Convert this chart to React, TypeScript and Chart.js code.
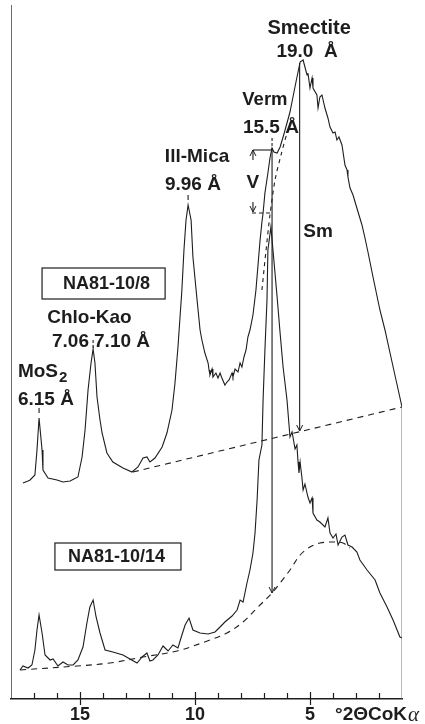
import React, { useEffect, useRef } from 'react';
import { Chart, registerables } from 'chart.js';

Chart.register(...registerables);

// ---- NA81-10/8 (upper pattern): °2θ CoKα vs. intensity (arb.) ----
const upperTheta = [17.48, 17.26, 17.17, 16.96, 16.87, 16.78, 16.65, 16.61, 16.39, 16.0, 15.74, 15.43, 15.09, 14.91, 14.78, 14.65, 14.52, 14.43, 14.35, 14.26, 14.13, 14.04, 13.83, 13.57, 13.13, 12.74, 12.48, 12.26, 12.09, 11.96, 11.74, 11.43, 11.22, 11.0, 10.87, 10.74, 10.57, 10.48, 10.39, 10.3, 10.17, 10.09, 9.91,
  9.78, 9.7, 9.57, 9.43, 9.39, 9.35, 9.26, 9.22, 9.09, 9.0, 8.91, 8.83, 8.7, 8.61, 8.52, 8.39, 8.35, 8.26, 8.13, 8.04, 7.96, 7.87, 7.78, 7.7, 7.61,
  7.48, 7.35, 7.26, 7.17, 7.09, 7.04, 6.96, 6.83, 6.74, 6.65, 6.57, 6.43, 6.3, 6.17, 6.0, 5.87, 5.74, 5.61, 5.52,
  5.43, 5.3, 5.22, 5.13, 5.09, 5.0, 4.91, 4.87, 4.7, 4.65, 4.57, 4.48, 4.35, 4.22, 4.13, 4.0, 3.91, 3.83, 3.74, 3.61, 3.48, 3.39, 3.35, 3.26, 3.13, 3.04, 2.91, 2.74, 2.61, 2.48,
  2.26, 1.96, 1.74, 1.52, 1.26, 1.0];
const upperCounts = [216, 218, 219, 224, 249, 281, 249, 229, 221, 219, 217, 218, 222, 242, 269, 309, 336, 350, 336, 302, 279, 266, 246, 237, 231, 227, 232, 241, 242, 237, 241, 252, 266, 289, 316, 352, 409, 449, 479, 494, 479, 442, 399,
  369, 359, 346, 336, 329, 324, 330, 322, 326, 321, 326, 321, 314, 317, 319, 326, 322, 330, 327, 336, 332, 342, 349, 362, 369,
  384, 409, 434, 459, 477, 486, 506, 526, 541, 551, 547, 546, 552, 562, 576, 587, 602, 617, 627,
  637, 639, 632, 624, 626, 611, 621, 611, 604, 591, 602, 604, 591, 581, 572, 566, 567, 559, 562, 554, 534, 529, 522, 511, 504, 497, 487, 474, 461, 447,
  422, 389, 369, 346, 319, 292];

// ---- NA81-10/14 (lower pattern) ----
const lowerTheta = [17.61, 17.48, 17.26, 17.09, 16.96, 16.87, 16.78, 16.65, 16.52, 16.3, 16.17, 15.96, 15.74, 15.52, 15.3, 15.09, 14.87, 14.7, 14.57, 14.43, 14.3, 14.13, 13.91, 13.57, 13.13, 12.83, 12.52, 12.3, 12.09, 11.96, 11.83, 11.61, 11.39, 11.17, 10.96, 10.74, 10.57, 10.43, 10.26, 10.09, 9.78, 9.43, 9.13, 8.91, 8.7, 8.39, 8.17, 8.04, 7.91, 7.74, 7.61, 7.48, 7.39, 7.3, 7.22, 7.09, 7.04, 6.96, 6.87, 6.83, 6.7, 6.61, 6.43, 6.3, 6.17, 6.0,
  5.87, 5.78, 5.65, 5.57, 5.52, 5.48, 5.43, 5.35, 5.3, 5.22, 5.09, 5.0, 4.91, 4.87, 4.7, 4.57, 4.35, 4.22, 4.13, 4.0, 3.87, 3.78, 3.61, 3.48, 3.35, 3.17, 2.96,
  2.83, 2.52, 2.17, 1.96, 1.65, 1.39, 1.09, 1.0];
const lowerCounts = [29, 33, 31, 34, 49, 69, 84, 66, 44, 39, 40, 33, 37, 34, 34, 39, 52, 76, 92, 99, 82, 66, 49, 47, 44, 40, 36, 42, 46, 38, 39, 44, 53, 48, 54, 51, 64, 74, 81, 69, 66, 65, 67, 72, 77, 83, 89, 99, 97, 116, 129, 146, 166, 199, 239, 254, 299, 349, 399, 449, 472, 449, 402, 366, 332, 299,
  262, 267, 250, 254, 237, 226, 237, 221, 209, 215, 202, 196, 201, 186, 179, 177, 172, 181, 166, 161, 165, 154, 162, 164, 154, 152, 147,
  139, 129, 119, 106, 92, 79, 62, 61];

// ---- background / decomposition curves ----
const upperBaseTheta = [12.7, 1.0];
const upperBaseCounts = [227, 292];
const lowerBaseTheta = [17.61, 15.13, 13.7, 12.26, 10.78, 9.35, 8.61, 7.91, 7.26, 6.65, 6.3, 5.87, 5.43, 5.0, 4.57, 4.0, 3.57, 3.26];
const lowerBaseCounts = [29, 33, 36, 42, 48, 59, 66, 77, 92, 106, 116, 129, 144, 152, 156, 157, 156, 151];
const smectiteFitTheta = [7.09, 6.91, 6.74, 6.52, 6.26, 5.96, 5.78];
const smectiteFitCounts = [409, 449, 484, 519, 544, 569, 581];

// ---- measurement markers ----
const smArrowTheta = [5.45, 5.45];
const smArrowCounts = [636, 268];
const vermArrowTheta = [6.65, 6.65];
const vermArrowCounts = [551, 106];
const vTopTheta = [7.48, 6.65];
const vTopCounts = [549, 549];
const vBottomTheta = [7.52, 6.65];
const vBottomCounts = [486, 486];
const vUpTheta = [7.48, 7.48];
const vUpCounts = [539, 549];
const vDownTheta = [7.48, 7.48];
const vDownCounts = [497, 487];

// peak label ticks
const mosTickTheta = [16.78, 16.78];
const mosTickCounts = [286, 291];
const chloTickTheta = [14.43, 14.43];
const chloTickCounts = [351, 359];
const illTickTheta = [10.3, 10.3];
const illTickCounts = [499, 504];
const vermTickTheta = [6.65, 6.65];
const vermTickCounts = [553, 562];

// frame lines
const leftFrameTheta = [18, 18];
const leftFrameCounts = [0, 694];
const rightFrameTheta = [1, 1];
const rightFrameCounts = [0, 292];

// axis
const majorTicks = [15, 10, 5];
const minorTicks = [17, 16, 15, 14, 13, 12, 11, 10, 9, 8, 7, 6, 5, 4, 3, 2];
const axisTitle = '°2ΘCoK';

const INK = '#1d1d1d';
const FONT = '"Liberation Sans", Arial, Helvetica, sans-serif';

type Lbl = { t: string; x: number; y: number; a: CanvasTextAlign; s: number };
const labels: Lbl[] = [
  { t: 'Smectite', x: 5.04, y: 671, a: 'center', s: 20 },
  { t: '19.0  Å', x: 5.13, y: 647, a: 'center', s: 19 },
  { t: 'Verm', x: 6.96, y: 599, a: 'center', s: 18.5 },
  { t: '15.5 Å', x: 6.7, y: 571, a: 'center', s: 19 },
  { t: 'Ill-Mica', x: 9.91, y: 542, a: 'center', s: 19 },
  { t: '9.96 Å', x: 10.09, y: 514, a: 'center', s: 19 },
  { t: 'V', x: 7.48, y: 516, a: 'center', s: 19 },
  { t: 'Sm', x: 4.65, y: 467, a: 'center', s: 19 },
  { t: 'NA81-10/8', x: 13.85, y: 415, a: 'center', s: 18 },
  { t: 'Chlo-Kao', x: 14.59, y: 381, a: 'center', s: 19 },
  { t: '7.06', x: 14.61, y: 357, a: 'right', s: 19 },
  { t: '7.10 Å', x: 14.39, y: 357, a: 'left', s: 19 },
  { t: '6.15 Å', x: 17.7, y: 299, a: 'left', s: 19 },
  { t: 'NA81-10/14', x: 13.41, y: 142, a: 'center', s: 18 },
];
const boxes = [
  { x1: 16.65, x2: 11.3, y1: 431, y2: 400 },
  { x1: 16.09, x2: 10.61, y1: 156, y2: 129 },
];

function pts(xs: number[], ys: number[]) {
  return xs.map((x, i) => ({ x, y: ys[i] }));
}

function line(xs: number[], ys: number[], extra: any = {}) {
  return {
    data: pts(xs, ys),
    borderColor: INK,
    borderWidth: 1.1,
    pointRadius: 0,
    fill: false,
    tension: 0,
    ...extra,
  };
}

export default function App() {
  const ref = useRef<HTMLCanvasElement>(null);
  useEffect(() => {
    document.body.style.margin = '0';
    const canvas = ref.current!;
    const annot = {
      id: 'annot',
      afterDatasetsDraw(chart: any) {
        const ctx = chart.ctx as CanvasRenderingContext2D;
        const xs = chart.scales.x;
        const ys = chart.scales.y;
        const X = (v: number) => xs.getPixelForValue(v);
        const Y = (v: number) => ys.getPixelForValue(v);
        ctx.save();
        ctx.fillStyle = INK;
        ctx.strokeStyle = INK;
        ctx.textBaseline = 'middle';
        for (const l of labels) {
          ctx.font = `bold ${l.s}px ${FONT}`;
          ctx.textAlign = l.a;
          ctx.fillText(l.t, X(l.x), Y(l.y));
        }
        // MoS2 with subscript
        ctx.textAlign = 'left';
        ctx.font = `bold 19px ${FONT}`;
        const mx = X(17.7);
        const my = Y(327);
        ctx.fillText('MoS', mx, my);
        const w = ctx.measureText('MoS').width;
        ctx.font = `bold 15px ${FONT}`;
        ctx.fillText('2', mx + w + 1, my + 6);
        // boxes
        ctx.lineWidth = 1.2;
        for (const b of boxes) {
          const x1 = X(b.x1), x2 = X(b.x2), y1 = Y(b.y1), y2 = Y(b.y2);
          ctx.strokeRect(x1, y1, x2 - x1, y2 - y1);
        }
        // arrowheads
        ctx.lineWidth = 1;
        const head = (x: number, y: number, dir: number) => {
          ctx.beginPath();
          ctx.moveTo(x - 3, y - 6 * dir);
          ctx.lineTo(x, y);
          ctx.lineTo(x + 3, y - 6 * dir);
          ctx.stroke();
        };
        head(X(smArrowTheta[1]), Y(smArrowCounts[1]), 1);
        head(X(vermArrowTheta[1]), Y(vermArrowCounts[1]), 1);
        head(X(vUpTheta[1]), Y(vUpCounts[1]), -1);
        head(X(vDownTheta[1]), Y(vDownCounts[1]), 1);
        // axis tick marks (inside)
        const base = chart.chartArea.bottom;
        ctx.lineWidth = 1.2;
        for (const t of minorTicks) {
          const px = Math.round(X(t)) + 0.5;
          const major = majorTicks.includes(t);
          ctx.beginPath();
          ctx.moveTo(px, base - (major ? 7 : 6));
          ctx.lineTo(px, base + (major ? 6 : 0));
          ctx.stroke();
        }
        // axis title
        ctx.textAlign = 'left';
        ctx.font = `bold 19px ${FONT}`;
        const tx = X(3.91);
        const ty = base + 16;
        ctx.fillText(axisTitle, tx, ty);
        const tw = ctx.measureText(axisTitle).width;
        ctx.font = `italic 21px "Liberation Serif", "DejaVu Serif", serif`;
        ctx.fillText('α', tx + tw + 1, ty);
        ctx.restore();
      },
    };

    const chart = new Chart(canvas, {
      type: 'line',
      data: {
        datasets: [
          line(upperTheta, upperCounts),
          line(lowerTheta, lowerCounts),
          line(upperBaseTheta, upperBaseCounts, { borderDash: [6, 5] }),
          line(lowerBaseTheta, lowerBaseCounts, { borderDash: [6, 5], tension: 0.35 }),
          line(smectiteFitTheta, smectiteFitCounts, { borderDash: [4, 4], tension: 0.3 }),
          line(smArrowTheta, smArrowCounts),
          line(vermArrowTheta, vermArrowCounts),
          line(vTopTheta, vTopCounts),
          line(vBottomTheta, vBottomCounts, { borderDash: [4, 3] }),
          line(vUpTheta, vUpCounts),
          line(vDownTheta, vDownCounts),
          line(mosTickTheta, mosTickCounts),
          line(chloTickTheta, chloTickCounts, { borderDash: [3, 2] }),
          line(illTickTheta, illTickCounts),
          line(vermTickTheta, vermTickCounts, { borderDash: [3, 2] }),
          line(leftFrameTheta, leftFrameCounts, { borderWidth: 1.3 }),
          line(rightFrameTheta, rightFrameCounts, { borderColor: '#777', borderWidth: 1 }),
        ] as any,
      },
      options: {
        animation: false,
        responsive: false,
        maintainAspectRatio: false,
        layout: { padding: { left: 11, right: 23, top: 0, bottom: 0 } },
        plugins: { legend: { display: false }, tooltip: { enabled: false } },
        scales: {
          x: {
            type: 'linear',
            min: 1,
            max: 18,
            reverse: true,
            afterFit: (s: any) => {
              s.height = 25;
            },
            border: { display: true, color: INK, width: 1.5 },
            grid: { display: true, drawOnChartArea: false, drawTicks: false },
            ticks: {
              stepSize: 1,
              autoSkip: false,
              maxRotation: 0,
              padding: 5,
              color: INK,
              font: { family: FONT, size: 18, weight: 'bold' },
              callback: (v: any) => (majorTicks.includes(Number(v)) ? String(v) : ''),
            },
          },
          y: { type: 'linear', display: false, min: 0, max: 699 },
        },
      } as any,
      plugins: [annot],
    });
    return () => chart.destroy();
  }, []);
  return (
    <div style={{ position: 'absolute', left: 0, top: 0, width: 425, height: 724, background: '#fff' }}>
      <canvas ref={ref} width={425} height={724} style={{ display: 'block' }} />
    </div>
  );
}
